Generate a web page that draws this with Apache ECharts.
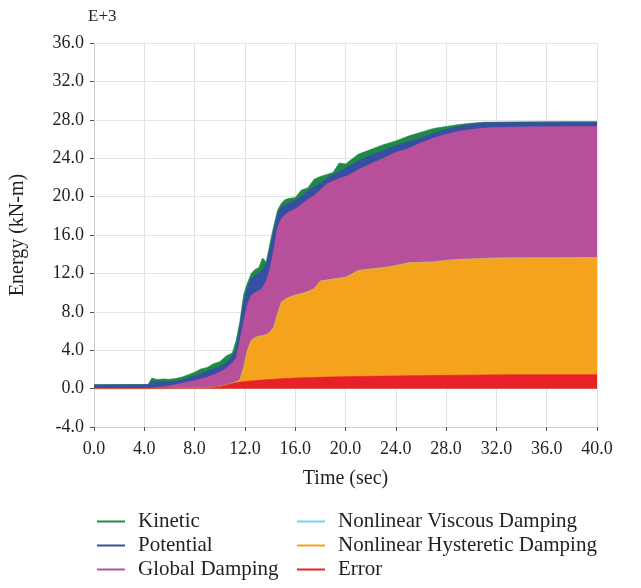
<!DOCTYPE html>
<html>
<head>
<meta charset="utf-8">
<script src="https://cdn.jsdelivr.net/npm/echarts@6/dist/echarts.min.js"></script>
<style>
  html, body { margin: 0; padding: 0; background: #fff; }
  #chart { width: 641px; height: 588px; }
</style>
</head>
<body>
<div id="chart"></div>
<script>
// time (sec)
const times = [0, 4.3, 4.6, 5, 5.5, 6, 6.5, 7, 7.5, 8, 8.5, 9, 9.5, 10, 10.5, 11, 11.3, 11.6, 11.9, 12.2,
  12.5, 12.8, 13.1, 13.4, 13.7, 14, 14.3, 14.6, 14.9, 15.2, 15.5, 16, 16.5, 17, 17.5, 18, 18.5, 19, 19.5, 20,
  20.5, 21, 22, 23, 24, 25, 26, 27, 28, 29, 30, 31, 32, 34, 36, 38, 40];

// energy components (E+3 kN-m), stacked bottom to top
const errorE = [0, 0, 0, 0, 0, 0.02, 0.03, 0.04, 0.05, 0.07, 0.1, 0.13, 0.18, 0.25, 0.4, 0.55, 0.62, 0.68, 0.72, 0.76,
  0.8, 0.83, 0.86, 0.9, 0.93, 0.95, 0.98, 1.0, 1.02, 1.04, 1.06, 1.1, 1.12, 1.14, 1.16, 1.18, 1.2, 1.22, 1.23, 1.24,
  1.25, 1.26, 1.28, 1.3, 1.32, 1.34, 1.35, 1.36, 1.38, 1.4, 1.4, 1.42, 1.43, 1.44, 1.45, 1.45, 1.45];
const hysteretic = [0, 0, 0, 0, 0, 0, 0, 0, 0, 0, 0, 0, 0, 0, 0, 0.05, 0.08, 0.22, 1.48, 3.24,
  4.2, 4.47, 4.59, 4.6, 4.67, 4.95, 5.42, 6.8, 7.98, 8.26, 8.44, 8.65, 8.78, 8.96, 9.24, 10.02, 10.1, 10.18, 10.27, 10.36,
  10.65, 11.04, 11.17, 11.3, 11.48, 11.76, 11.8, 11.84, 11.97, 12.05, 12.1, 12.13, 12.17, 12.18, 12.18, 12.19, 12.2];
const viscous = [0, 0, 0, 0, 0, 0, 0, 0, 0, 0, 0, 0, 0, 0, 0, 0, 0, 0, 0, 0,
  0, 0, 0, 0, 0, 0, 0, 0, 0, 0, 0, 0, 0, 0, 0, 0, 0, 0, 0, 0,
  0, 0, 0, 0, 0, 0, 0, 0, 0, 0, 0, 0, 0, 0, 0, 0, 0];
const globalDamping = [0, 0, 0.05, 0.12, 0.2, 0.28, 0.39, 0.51, 0.67, 0.78, 0.9, 1.07, 1.27, 1.45, 1.7, 2.1, 2.5, 4.1, 4.8, 4.8,
  4.7, 4.7, 4.75, 5.0, 5.6, 6.6, 8.1, 9.0, 8.7, 8.8, 8.9, 8.95, 9.3, 9.6, 9.7, 9.5, 10.0, 10.2, 10.4, 10.5,
  10.5, 10.5, 10.95, 11.4, 11.8, 11.9, 12.45, 12.9, 13.15, 13.35, 13.5, 13.6, 13.6, 13.63, 13.65, 13.66, 13.65];
const potential = [0.4, 0.42, 0.65, 0.6, 0.52, 0.45, 0.38, 0.35, 0.36, 0.45, 0.55, 0.6, 0.6, 0.6, 0.55, 0.7, 0.8, 1.5, 2.0, 1.8,
  1.8, 1.8, 1.8, 1.9, 1.8, 2.0, 2.0, 1.4, 1.2, 1.0, 0.9, 0.9, 0.8, 0.9, 0.9, 0.7, 0.6, 0.7, 0.7, 0.9,
  0.9, 0.9, 0.9, 0.8, 0.7, 0.7, 0.5, 0.5, 0.5, 0.5, 0.55, 0.55, 0.52, 0.5, 0.47, 0.46, 0.46];
const kinetic = [0, 0, 0.4, 0.23, 0.28, 0.23, 0.25, 0.3, 0.37, 0.4, 0.5, 0.4, 0.55, 0.5, 0.75, 0.3, 1.0, 0.5, 0.8, 0.4,
  0.5, 0.6, 0.6, 1.2, 0.2, 0.7, 0.5, 0.4, 0.4, 0.6, 0.5, 0.3, 0.7, 0.3, 0.8, 0.7, 0.4, 0.2, 0.9, 0.4,
  0.6, 0.7, 0.6, 0.6, 0.5, 0.6, 0.6, 0.5, 0.3, 0.2, 0.1, 0.05, 0.04, 0.03, 0.04, 0.04, 0.04];

const yTicks = [-4, 36, 4];
const xTicks = [0, 40, 4];

const FONT = "'Liberation Serif', 'Times New Roman', serif";
const TEXT = "#231f20";

// bottom-to-top stacking order
const layers = [
  { name: "Error", values: errorE, color: "#e8202a" },
  { name: "Nonlinear Hysteretic Damping", values: hysteretic, color: "#f5a31c" },
  { name: "Nonlinear Viscous Damping", values: viscous, color: "#6fd4ec" },
  { name: "Global Damping", values: globalDamping, color: "#b84f9a" },
  { name: "Potential", values: potential, color: "#3550a3" },
  { name: "Kinetic", values: kinetic, color: "#1e8a45" },
];

// running totals so each layer can be filled down to zero (value x-axis stacks badly)
const running = times.map(() => 0);
const stacked = layers.map((layer) => {
  const top = layer.values.map((v, i) => (running[i] += v));
  return { layer: layer, data: times.map((t, i) => [t, +top[i].toFixed(3)]) };
});

const chart = echarts.init(document.getElementById("chart"));

// draw the highest layer first so lower layers paint over it
const series = stacked.slice().reverse().map((s) => ({
  name: s.layer.name,
  type: "line",
  data: s.data,
  showSymbol: false,
  symbol: "none",
  color: s.layer.color,
  lineStyle: { width: 0.6, color: s.layer.color },
  areaStyle: { color: s.layer.color, opacity: 1 },
}));

const legendBase = {
  orient: "vertical",
  top: 506,
  icon: "rect",
  itemWidth: 28,
  itemHeight: 2,
  itemGap: 3,
  textStyle: { fontFamily: FONT, fontSize: 21, color: TEXT, padding: [0, 0, 0, 8] },
};

chart.setOption({
  animation: false,
  backgroundColor: "#fff",
  grid: { left: 91, right: 44, top: 43, bottom: 161 },
  graphic: [
    { type: "text", left: 88, top: 8, style: { text: "E+3", font: "17px " + FONT, fill: TEXT } },
  ],
  legend: [
    Object.assign({ left: 92, data: ["Kinetic", "Potential", "Global Damping"] }, legendBase),
    Object.assign({ left: 292, data: ["Nonlinear Viscous Damping", "Nonlinear Hysteretic Damping", "Error"] }, legendBase),
  ],
  xAxis: {
    type: "value",
    min: xTicks[0],
    max: xTicks[1],
    interval: xTicks[2],
    name: "Time (sec)",
    nameLocation: "middle",
    nameGap: 42,
    nameTextStyle: { fontFamily: FONT, fontSize: 20, color: TEXT },
    axisLine: { onZero: false, lineStyle: { color: "#cfcfcf" } },
    axisTick: { show: true, length: 4, lineStyle: { color: "#555" } },
    axisLabel: { fontFamily: FONT, fontSize: 18, color: TEXT, margin: 13, formatter: (v) => v.toFixed(1) },
    splitLine: { show: true, lineStyle: { color: "#e3e3e3" } },
  },
  yAxis: {
    type: "value",
    min: yTicks[0],
    max: yTicks[1],
    interval: yTicks[2],
    name: "Energy (kN-m)",
    nameLocation: "middle",
    nameGap: 66,
    nameTextStyle: { fontFamily: FONT, fontSize: 20, color: TEXT },
    axisLine: { show: true, lineStyle: { color: "#cfcfcf" } },
    axisTick: { show: true, length: 4, lineStyle: { color: "#555" } },
    axisLabel: { fontFamily: FONT, fontSize: 18, color: TEXT, margin: 10, formatter: (v) => v.toFixed(1) },
    splitLine: { show: true, lineStyle: { color: "#e3e3e3" } },
  },
  series: series,
});
</script>
</body>
</html>
